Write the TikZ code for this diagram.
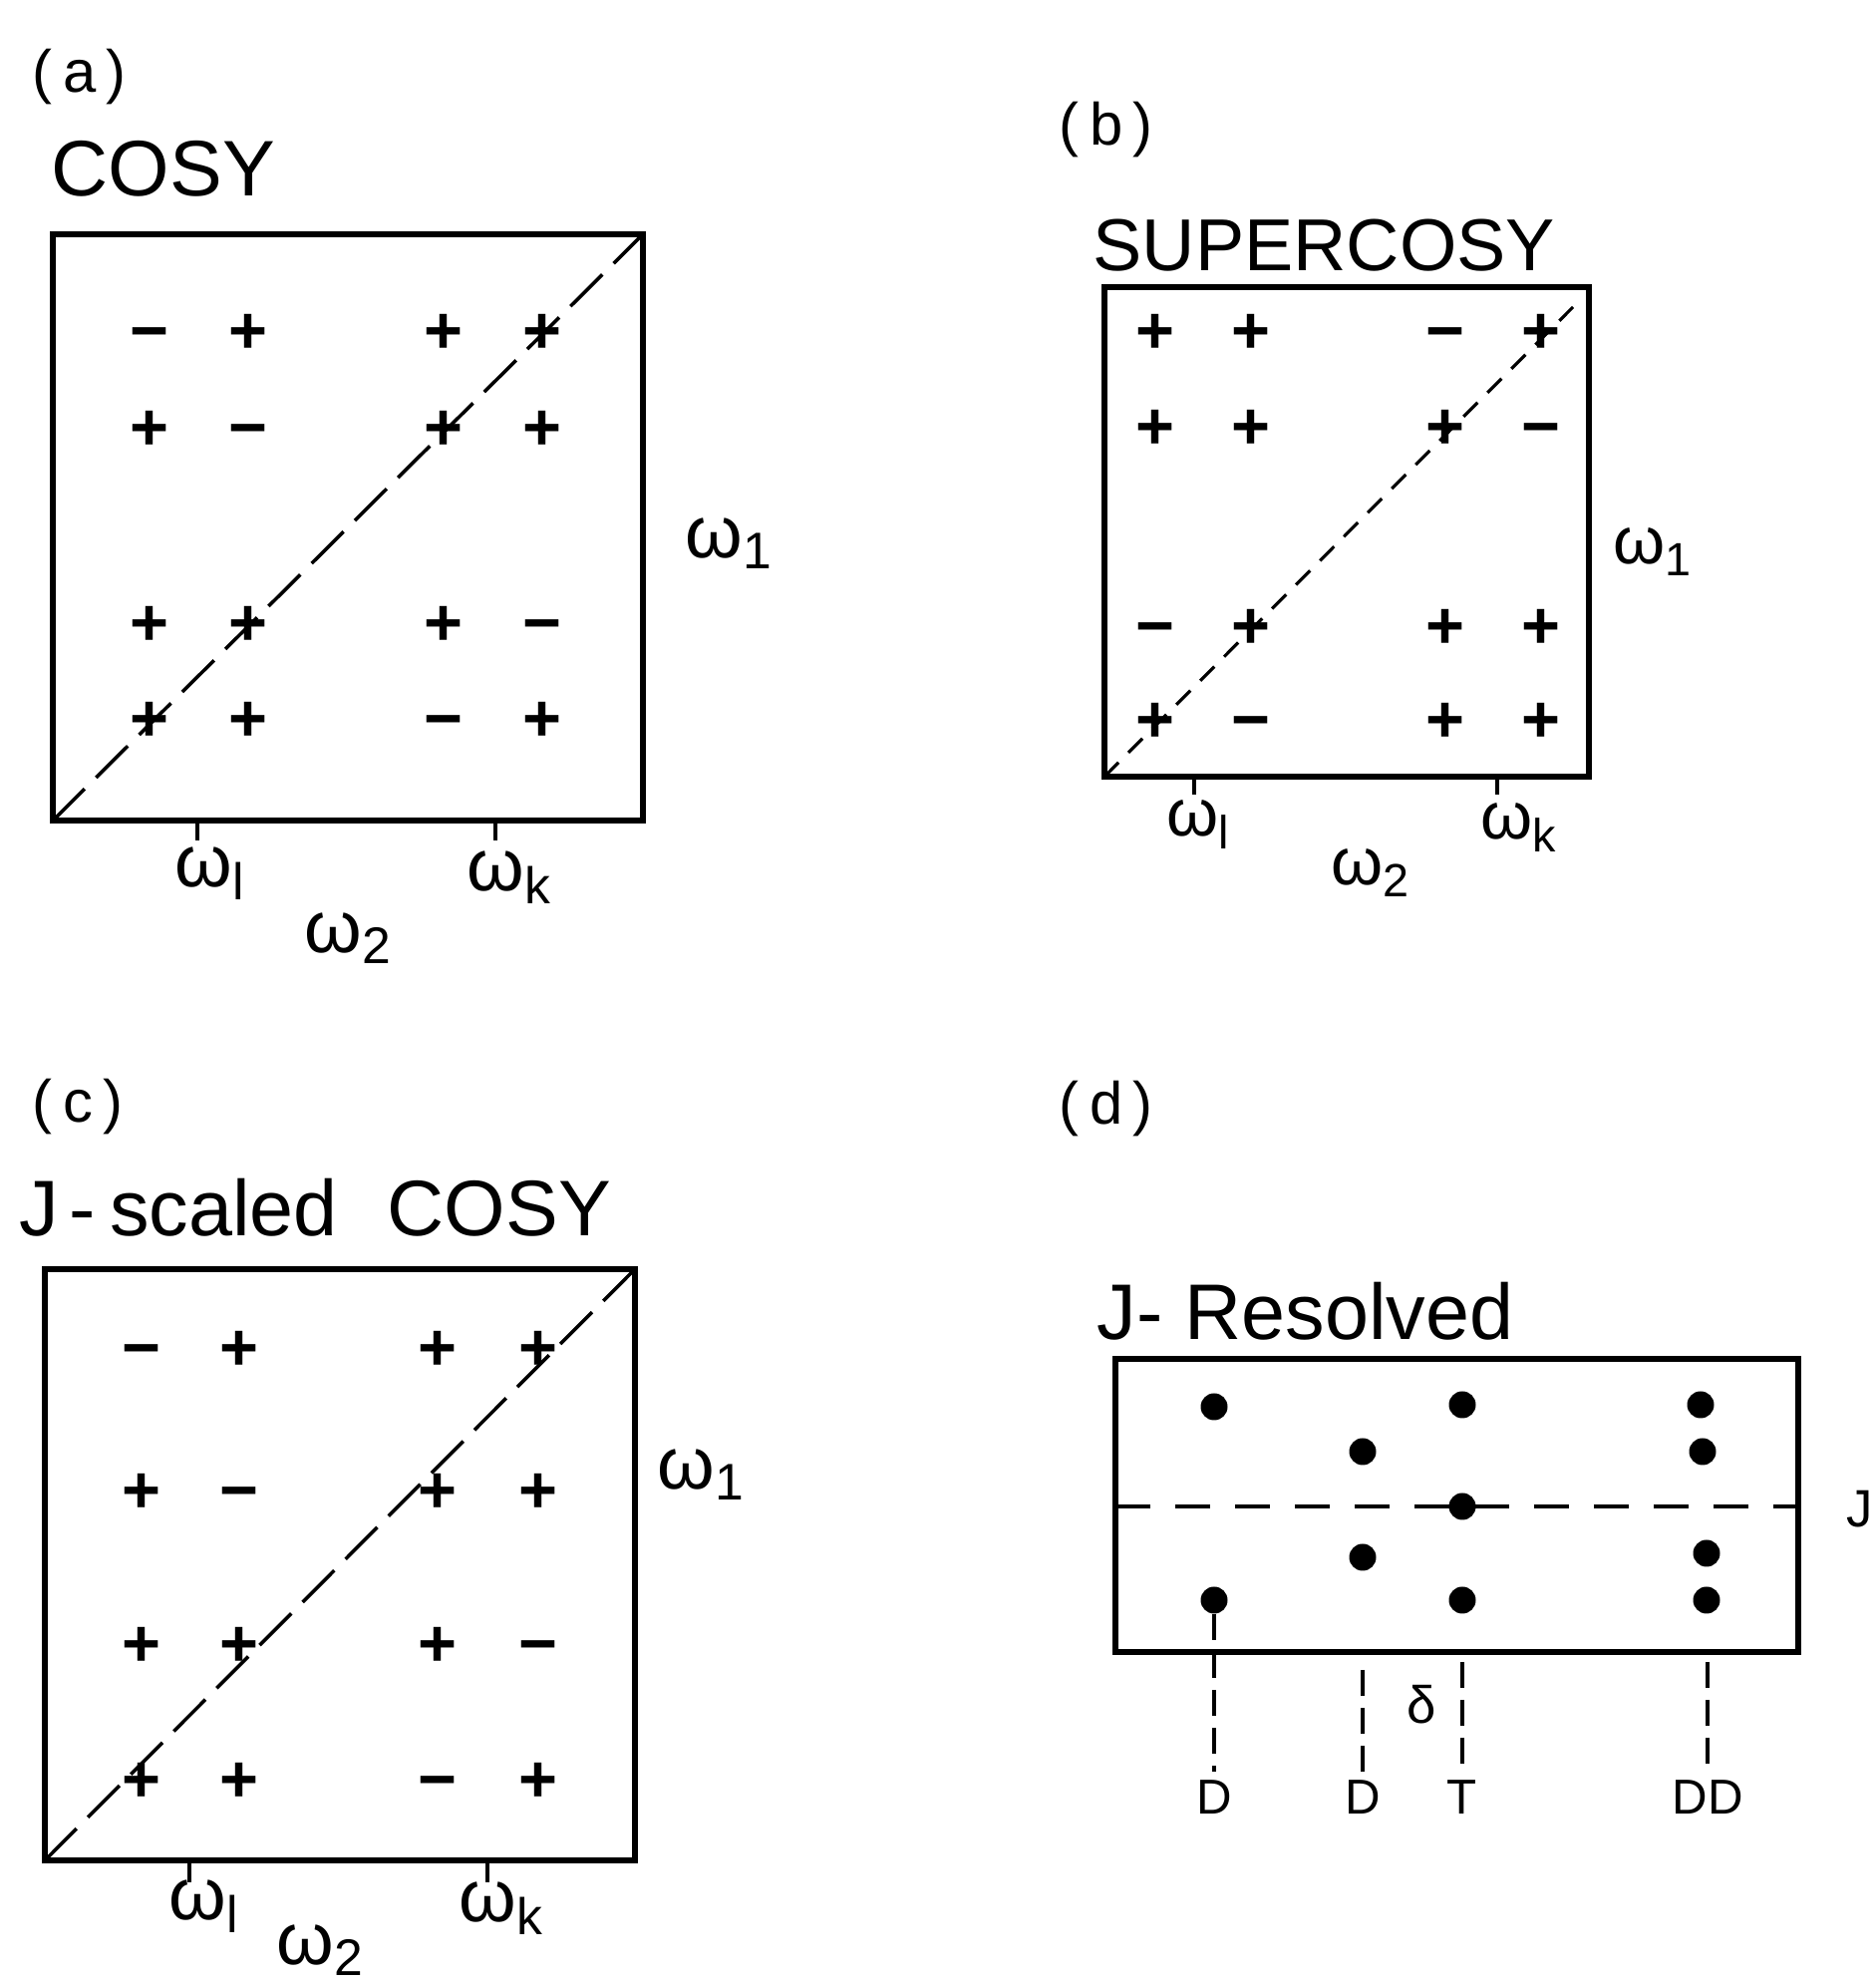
\documentclass[tikz,border=0pt]{standalone}
\usepackage{fontspec}
\setmainfont{Liberation Sans}
\begin{document}
\begin{tikzpicture}[
  frame/.style={line width=1.5pt},
  diag/.style={line width=1pt, dash pattern=on 0.45cm off 0.16cm},
  fine diag/.style={line width=0.9pt, dash pattern=on 0.2cm off 0.14cm},
  tickmark/.style={line width=1.2pt},
  sgn/.style={inner sep=0pt, font=\fontsize{19}{21}\selectfont\bfseries, text height=12.5pt, text depth=0pt},
  spot/.style={circle, fill, inner sep=0pt, minimum size=0.27cm},
  title/.style={anchor=base west, inner sep=0pt, font=\fontsize{22.5}{27}\selectfont},
  panel/.style={anchor=base west, inner sep=0pt, font=\fontsize{17}{20}\selectfont},
  freq/.style={anchor=base west, inner sep=0pt, font=\fontsize{21}{24}\selectfont},
  peak/.style={anchor=base, inner sep=2.5pt, font=\fontsize{14}{16}\selectfont},
  guide/.style={line width=0.9pt, dash pattern=on 0.26cm off 0.12cm}]
\useasboundingbox (0,0) rectangle (18.81,19.94);

% (a) COSY
\node[panel] (pa) at (0.32,19.01) {(\kern3pt a\kern3pt)};
\node[title] (ta) at (0.51,17.97) {COSY};
\begin{scope}[shift={(0.53,11.71)}]
\draw[frame] (0,0) rectangle (5.92,5.88);
\draw[diag] (0,0) -- (5.92,5.88);
\foreach \y/\sa/\sb/\sc/\sd [count=\r] in {4.90/−/+/+/+, 3.93/+/−/+/+, 1.97/+/+/+/−, 1.01/+/+/−/+} {
  \node[sgn] (a\r1) at (0.97,\y) {\sa};
  \node[sgn] (a\r2) at (1.96,\y) {\sb};
  \node[sgn] (a\r3) at (3.92,\y) {\sc};
  \node[sgn] (a\r4) at (4.91,\y) {\sd};
}
\draw[tickmark] (1.45,0) -- (1.45,-0.2);
\draw[tickmark] (4.44,0) -- (4.44,-0.2);
\node[freq] (al) at (1.22,-0.67) {ω\textsubscript{l}};
\node[freq] (ak) at (4.15,-0.71) {ω\textsubscript{k}};
\node[freq] (a2) at (2.52,-1.33) {ω\textsubscript{2}};
\node[freq] (a1) at (6.34,2.63) {ω\textsubscript{1}};
\end{scope}

% (b) SUPERCOSY
\node[panel] (pb) at (10.62,18.48) {(\kern3pt b\kern3pt)};
\node[title, font=\fontsize{21}{25}\selectfont] (tb) at (10.96,17.22) {SUPERCOSY};
\begin{scope}[shift={(11.08,12.15)}]
\draw[frame] (0,0) rectangle (4.86,4.91);
\draw[fine diag] (0,0) -- (4.70,4.71);
\foreach \y/\sa/\sb/\sc/\sd [count=\r] in {4.46/+/+/−/+, 3.50/+/+/+/−, 1.50/−/+/+/+, 0.56/+/−/+/+} {
  \node[sgn] (b\r1) at (0.51,\y) {\sa};
  \node[sgn] (b\r2) at (1.47,\y) {\sb};
  \node[sgn] (b\r3) at (3.42,\y) {\sc};
  \node[sgn] (b\r4) at (4.38,\y) {\sd};
}
\draw[tickmark] (0.90,0) -- (0.90,-0.18);
\draw[tickmark] (3.94,0) -- (3.94,-0.18);
\node[freq, font=\fontsize{19}{22}\selectfont] (bl) at (0.62,-0.60) {ω\textsubscript{l}};
\node[freq, font=\fontsize{19}{22}\selectfont] (bk) at (3.77,-0.63) {ω\textsubscript{k}};
\node[freq, font=\fontsize{19}{22}\selectfont] (b2) at (2.27,-1.09) {ω\textsubscript{2}};
\node[freq, font=\fontsize{19}{22}\selectfont] (b1) at (5.10,2.13) {ω\textsubscript{1}};
\end{scope}

% (c) J-scaled COSY
\node[panel] (pc) at (0.32,8.68) {(\kern3pt c\kern3pt)};
\node[title] (tc) at (0.19,7.54) {J\kern3pt-\kern4pt scaled\kern8pt\ COSY};
\begin{scope}[shift={(0.45,1.28)}]
\draw[frame] (0,0) rectangle (5.92,5.93);
\draw[diag] (0,0) -- (5.92,5.93);
\foreach \y/\sa/\sb/\sc/\sd [count=\r] in {5.13/−/+/+/+, 3.70/+/−/+/+, 2.16/+/+/+/−, 0.80/+/+/−/+} {
  \node[sgn] (c\r1) at (0.97,\y) {\sa};
  \node[sgn] (c\r2) at (1.95,\y) {\sb};
  \node[sgn] (c\r3) at (3.94,\y) {\sc};
  \node[sgn] (c\r4) at (4.95,\y) {\sd};
}
\draw[tickmark] (1.45,0) -- (1.45,-0.22);
\draw[tickmark] (4.44,0) -- (4.44,-0.22);
\node[freq] (cl) at (1.24,-0.60) {ω\textsubscript{l}};
\node[freq] (ck) at (4.15,-0.62) {ω\textsubscript{k}};
\node[freq] (c2) at (2.32,-1.05) {ω\textsubscript{2}};
\node[freq] (c1) at (6.14,3.72) {ω\textsubscript{1}};
\end{scope}

% (d) J-resolved
\node[panel] (pd) at (10.62,8.66) {(\kern3pt d\kern3pt)};
\node[title] (td) at (11.00,6.50) {J- Resolved};
\begin{scope}[shift={(11.19,3.37)}]
\draw[frame] (0,0) rectangle (6.85,2.94);
\draw[guide, dash pattern=on 0.35cm off 0.25cm] (0,1.46) -- (6.85,1.46);
\node[anchor=base west, inner sep=0pt, font=\fontsize{15}{18}\selectfont] (jj) at (7.33,1.25) {J};
\node[spot] (d1a) at (0.99,2.46) {};
\node[spot] (d1b) at (0.99,0.52) {};
\node[spot] (d2a) at (2.48,2.01) {};
\node[spot] (d2b) at (2.48,0.95) {};
\node[spot] (t1) at (3.48,2.48) {};
\node[spot] (t2) at (3.48,1.46) {};
\node[spot] (t3) at (3.48,0.52) {};
\node[spot] (dd1) at (5.87,2.48) {};
\node[spot] (dd2) at (5.89,2.01) {};
\node[spot] (dd3) at (5.93,0.99) {};
\node[spot] (dd4) at (5.93,0.52) {};
\node[peak] (lD1) at (0.99,-1.63) {D};
\node[peak] (lD2) at (2.48,-1.63) {D};
\node[peak] (lT) at (3.48,-1.63) {T};
\node[peak] (lDD) at (5.94,-1.63) {DD};
\coordinate (s2) at (2.48,-0.18);
\coordinate (s3) at (3.48,-0.10);
\coordinate (s4) at (5.94,-0.10);
\draw[guide] (d1b) -- (lD1);
\draw[guide] (s2) -- (lD2);
\draw[guide] (s3) -- (lT);
\draw[guide] (s4) -- (lDD);
\node[inner sep=0pt, font=\fontsize{15}{17}\selectfont] (dl) at (3.07,-0.53) {δ};
\end{scope}
\end{tikzpicture}
\end{document}
